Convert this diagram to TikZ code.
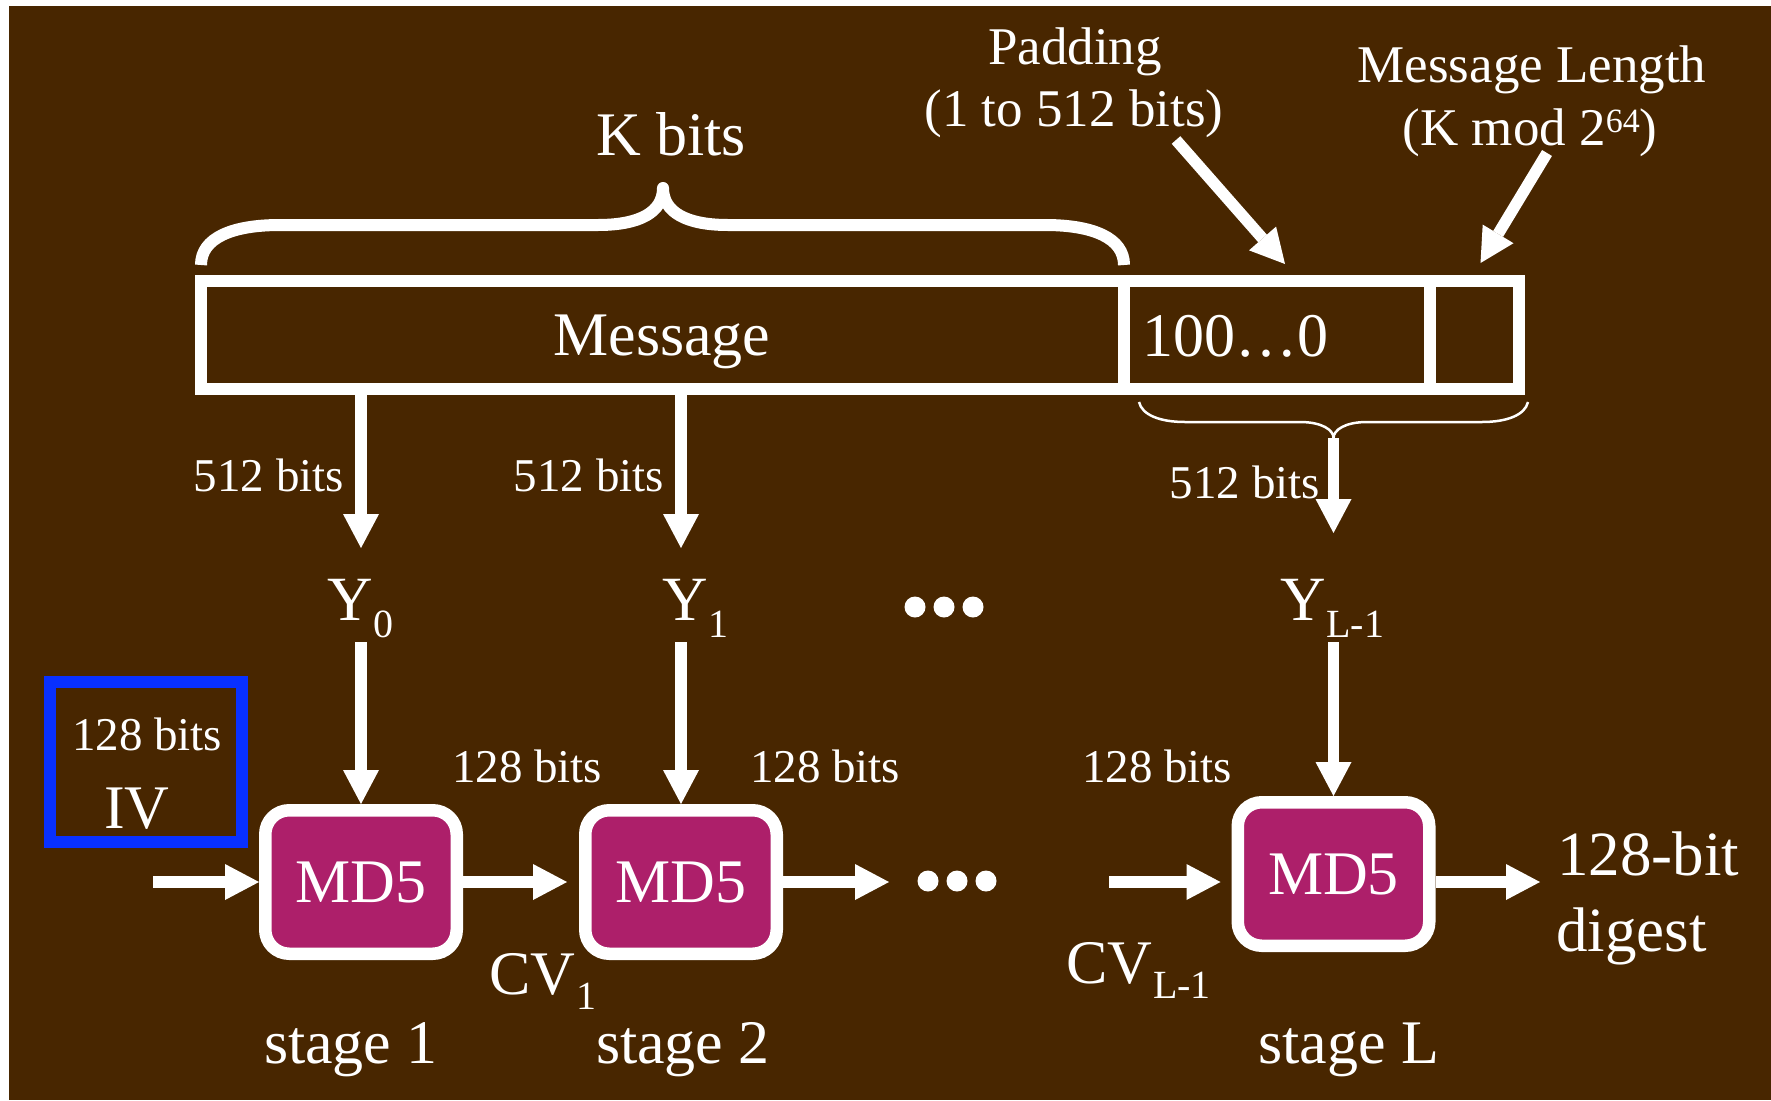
\documentclass[tikz,border=0pt]{standalone}
\usepackage{fontspec}
\setmainfont{Liberation Serif}
\usetikzlibrary{arrows.meta}

\definecolor{slidebrown}{RGB}{72,38,0}
\definecolor{md5fill}{RGB}{173,31,106}
\definecolor{ivblue}{RGB}{8,48,255}

\newcommand\fsz[1]{\fontsize{#1}{#1}\selectfont}
\newcommand\sub[2]{\raisebox{-#1pt}{\fsz{40}#2}}

\begin{document}
\begin{tikzpicture}[x=1pt,y=-1pt,
  txt/.style={inner sep=0pt, outer sep=0pt, text=white},
  big/.style={txt, font=\fsz{62}},
  mid/.style={txt, font=\fsz{53}},
  small/.style={txt, font=\fsz{47}},
  ylab/.style={txt, font=\fsz{63}, text depth=22pt},
  field/.style={draw=white, line width=12pt, minimum height=108pt, inner sep=0pt},
  md5box/.style={draw=white, fill=md5fill, line width=12.5pt, rounded corners=24pt,
    minimum width=191.5pt, minimum height=143.5pt, inner sep=0pt,
    text=white, font=\fsz{62}},
  ivbox/.style={draw=ivblue, line width=12pt, minimum width=192pt, minimum height=159.5pt, inner sep=0pt},
  arr/.style={draw=white, line width=11.5pt,
    -{Triangle[length=34pt,width=36pt,line width=0pt]}},
  kbrace/.style={draw=white, line width=12pt, line join=round},
  thinbrace/.style={draw=white, line width=2.5pt, line join=round},
  dot/.style={fill=white}
]
\useasboundingbox (0,0) rectangle (1771,1100);
\fill[white] (0,0) rectangle (1771,1100);
\fill[slidebrown] (9,6) rectangle (1771,1100);

% message block: message, padding, length fields
\node[field, minimum width=923pt] (msg) at (662.5,335) {};
\node[field, minimum width=306pt] (pad) at (1277,335) {};
\node[field, minimum width=89pt]  (len) at (1474.5,335) {};
\node[big, anchor=base] (msgtxt) at (662,355) {Message};
\node[big, anchor=base west] (zeros) at (1142,356) {100…0};

% brace over the message
\draw[kbrace] (201,265) .. controls (201,238) and (232,225) .. (280,225)
  -- (598,225) .. controls (640,225) and (663,212) .. (663,188)
  .. controls (663,212) and (686,225) .. (728,225)
  -- (1045,225) .. controls (1093,225) and (1124,238) .. (1124,265);
\node[big, anchor=base] (kbits) at (671,155) {K bits};

% labels above padding and length
\node[mid, anchor=base] (padA) at (1075,64) {Padding};
\node[mid, anchor=base] (padB) at (1074,126) {(1 to 512 bits)};
\node[mid, anchor=base] (lenA) at (1532,82) {Message Length};
\node[mid, anchor=base] (lenB) at (1530,145) {(K mod 2\raisebox{13pt}{\fsz{34}64})};
\coordinate (padfrom) at (1176,140);
\coordinate (lenfrom) at (1547,153);
\draw[arr] (padfrom) -- ([xshift=8pt,yshift=11pt]pad.north);
\draw[arr] (lenfrom) -- ([xshift=6pt,yshift=12pt]len.north);

% brace under the last block
\draw[thinbrace] (1139,402) .. controls (1142,415) and (1160,422) .. (1185,422)
  -- (1300,422) .. controls (1322,422) and (1333.5,430) .. (1333.5,438)
  .. controls (1333.5,430) and (1345,422) .. (1367,422)
  -- (1482,422) .. controls (1507,422) and (1525,415) .. (1528,402);
\coordinate (braceTip) at (1333.5,438);

% compression stages
\node[md5box] (b1) at (361,882) {MD5};
\node[md5box] (b2) at (681,882) {MD5};
\node[md5box] (bL) at (1333.5,874) {MD5};

% message blocks
\node[ylab, text height=72pt, anchor=base west] (y0) at (327,620) {Y\kern1pt\sub{17}{0}};
\node[ylab, text height=72pt, anchor=base west] (y1) at (662,620) {Y\kern1pt\sub{17}{1}};
\node[ylab, text height=87pt, anchor=base west] (yL) at (1280,620) {Y\kern1pt\sub{17}{L-1}};

\node[small, anchor=base east] (w0) at (344,491) {512 bits};
\node[small, anchor=base east] (w1) at (664,491) {512 bits};
\node[small, anchor=base east] (wL) at (1320,498) {512 bits};

\draw[arr] (msg.south -| b1.north) -- (y0.north -| b1.north);
\draw[arr] (msg.south -| b2.north) -- (y1.north -| b2.north);
\draw[arr] (braceTip) -- (yL.north -| braceTip);
\draw[arr] (y0.south -| b1.north) -- (b1.north);
\draw[arr] (y1.south -| b2.north) -- (b2.north);
\draw[arr] (yL.south -| bL.north) -- (bL.north);

% initial value
\node[ivbox] (iv) at (146,762) {};
\node[small, anchor=base west] (ivbits) at (72,750) {128 bits};
\node[big, anchor=base west] (ivtxt) at (104,828) {IV};

% chaining variables
\coordinate (ivfrom) at (153,882);
\coordinate (dotsA) at (889,882);
\coordinate (cvfrom) at (1109,882);
\coordinate (outto) at (1540,882);
\draw[arr] (ivfrom) -- (b1.west);
\draw[arr, shorten >=12pt] (b1.east) -- (b2.west);
\draw[arr] (b2.east) -- (dotsA);
\draw[arr, shorten >=11pt] (cvfrom) -- (cvfrom -| bL.west);
\draw[arr] (cvfrom -| bL.east) -- (outto);

\node[small, anchor=base west] (c1) at (452,782) {128 bits};
\node[small, anchor=base west] (c2) at (750,782) {128 bits};
\node[small, anchor=base west] (cL) at (1082,782) {128 bits};

\node[big, anchor=base west] (cv1) at (489,994) {CV\kern1pt\sub{15}{1}};
\node[big, anchor=base west] (cvL) at (1066,983) {CV\kern1pt\sub{15}{L-1}};

\node[big, anchor=base] (s1) at (351,1063) {stage 1};
\node[big, anchor=base] (s2) at (683,1063) {stage 2};
\node[big, anchor=base] (sL) at (1349,1063) {stage L};

\node[txt, font=\fsz{63}, anchor=base west] (digA) at (1557,875) {128-bit};
\node[txt, font=\fsz{63}, anchor=base west] (digB) at (1556,951) {digest};

% ellipsis dots
\foreach \cx in {915,944,973} \fill[dot] (\cx,607) circle (10.5);
\foreach \cx in {928,957,986} \fill[dot] (\cx,881) circle (10.5);
\end{tikzpicture}
\end{document}
